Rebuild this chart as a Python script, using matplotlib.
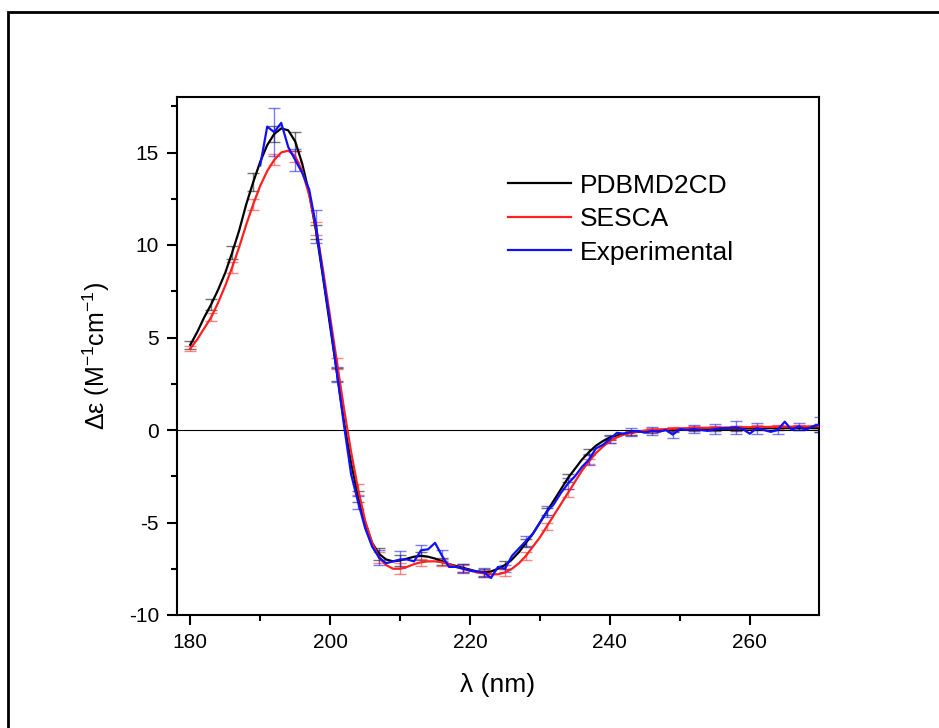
import matplotlib
matplotlib.use("Agg")
from matplotlib import pyplot as plt
from matplotlib.patches import Rectangle
from matplotlib.ticker import MultipleLocator

plt.rcParams['font.family'] = ['Liberation Sans', 'DejaVu Sans']
plt.rcParams['mathtext.fontset'] = 'custom'
plt.rcParams['mathtext.rm'] = 'Liberation Sans'
plt.rcParams['mathtext.it'] = 'Liberation Sans:italic'
plt.rcParams['axes.unicode_minus'] = False

# wavelength (nm)
wl = list(range(180, 271))
wl_exp = list(range(190, 271))

pdbmd2cd = [4.6, 5.3, 6.1, 6.8, 7.6, 8.5, 9.6, 10.8, 12.2, 13.4,
            14.5, 15.4, 16.0, 16.3, 16.2, 15.6, 14.4, 12.8, 10.7, 8.2,
            5.6, 3.0, 0.4, -1.8, -3.6, -5.0, -6.1, -6.7, -7.0, -7.1,
            -7.05, -6.95, -6.85, -6.8, -6.85, -6.95, -7.1, -7.25, -7.35, -7.45,
            -7.55, -7.65, -7.7, -7.65, -7.5, -7.3, -7.0, -6.6, -6.1, -5.6,
            -5.0, -4.4, -3.8, -3.2, -2.6, -2.1, -1.6, -1.2, -0.85, -0.6,
            -0.4, -0.3, -0.2, -0.15, -0.1, -0.08, -0.05, -0.03, 0.0, 0.0,
            0.02, 0.03, 0.04, 0.05, 0.05, 0.06, 0.07, 0.07, 0.08, 0.08,
            0.08, 0.09, 0.09, 0.1, 0.1, 0.1, 0.1, 0.1, 0.1, 0.1,
            0.1]

sesca = [4.4, 4.9, 5.5, 6.1, 6.9, 7.8, 8.8, 9.9, 11.1, 12.2,
         13.2, 14.0, 14.6, 15.0, 15.1, 14.8, 14.0, 12.7, 10.9, 8.6,
         6.1, 3.6, 1.1, -1.2, -3.2, -4.9, -6.1, -6.9, -7.3, -7.5,
         -7.5, -7.4, -7.25, -7.15, -7.1, -7.1, -7.15, -7.25, -7.4, -7.5,
         -7.6, -7.7, -7.75, -7.8, -7.8, -7.7, -7.5, -7.2, -6.8, -6.3,
         -5.8, -5.2, -4.6, -4.0, -3.4, -2.8, -2.2, -1.7, -1.25, -0.9,
         -0.6, -0.4, -0.25, -0.15, -0.08, -0.03, 0.0, 0.03, 0.05, 0.07,
         0.09, 0.1, 0.11, 0.12, 0.12, 0.13, 0.13, 0.14, 0.14, 0.15,
         0.15, 0.16, 0.16, 0.17, 0.17, 0.18, 0.18, 0.19, 0.19, 0.2,
         0.2]

experimental = [14.3, 16.4, 16.1, 16.6, 15.3, 14.6, 13.9, 13.0, 11.0, 8.3,
                5.8, 3.0, 0.2, -2.4, -3.9, -5.3, -6.3, -6.9, -7.2, -7.1,
                -7.0, -7.0, -7.1, -6.5, -6.45, -6.1, -6.8, -7.4, -7.4, -7.5,
                -7.6, -7.65, -7.7, -8.0, -7.4, -7.5, -6.8, -6.4, -6.0, -5.6,
                -5.0, -4.4, -4.0, -3.4, -2.9, -2.5, -2.0, -1.6, -1.0, -0.8,
                -0.5, -0.15, -0.2, -0.1, -0.05, -0.15, -0.05, -0.1, 0.0, -0.25,
                0.05, 0.0, 0.05, 0.0, -0.05, 0.05, 0.1, 0.1, 0.15, 0.05,
                -0.2, 0.1, 0.0, -0.1, 0.0, 0.45, 0.0, 0.2, 0.0, 0.2,
                0.3]

# error bars (every 3 nm)
err_wl = list(range(180, 271, 3))
pdbmd2cd_err = [0.2, 0.3, 0.35, 0.5, 0.45, 0.5, 0.4, 0.35, 0.3, 0.3,
                0.3, 0.2, 0.2, 0.2, 0.2, 0.2, 0.2, 0.2, 0.2, 0.15,
                0.15, 0.1, 0.1, 0.1, 0.1, 0.1, 0.15, 0.1, 0.1, 0.1,
                0.2]
sesca_err = [0.15, 0.2, 0.3, 0.3, 0.3, 0.3, 0.35, 0.3, 0.3, 0.3,
             0.3, 0.2, 0.2, 0.2, 0.2, 0.2, 0.2, 0.2, 0.2, 0.15,
             0.1, 0.1, 0.1, 0.1, 0.1, 0.1, 0.1, 0.1, 0.1, 0.1,
             0.1]
err_wl_exp = list(range(192, 271, 3))
experimental_err = [1.3, 0.6, 0.9, 0.4, 0.35, 0.4, 0.45, 0.3, 0.3, 0.25,
                    0.25, 0.2, 0.25, 0.3, 0.3, 0.3, 0.2, 0.2, 0.2, 0.2,
                    0.2, 0.25, 0.35, 0.3, 0.2, 0.2, 0.4]

fig = plt.figure(figsize=(9.39, 7.28), dpi=100)
# outer frame, cut by the right and bottom image edges
fig.add_artist(Rectangle((8 / 939, -0.1), 1.2, 1.1 - 12 / 728, fill=False,
                         lw=2, ec='black', transform=fig.transFigure, clip_on=False))
ax = fig.add_axes([177 / 939, 1 - 615 / 728, 642 / 939, 518 / 728])

ax.axhline(0, color='black', lw=0.8, zorder=1)

series = [
    (wl, pdbmd2cd, err_wl, pdbmd2cd_err, 'black', 'PDBMD2CD'),
    (wl, sesca, err_wl, sesca_err, '#ff2020', 'SESCA'),
    (wl_exp, experimental, err_wl_exp, experimental_err, '#1010ff', 'Experimental'),
]
for x, y, ex, ee, c, name in series:
    ey = [y[x.index(v)] for v in ex]
    ax.errorbar(ex, ey, yerr=ee, fmt='none', ecolor=c, alpha=0.55,
                elinewidth=1, capsize=4.5, capthick=1, zorder=2)
    ax.plot(x, y, color=c, lw=1.6, label=name, zorder=3)

ax.set_xlim(178.1, 269.9)
ax.set_ylim(-10, 18)
ax.xaxis.set_major_locator(MultipleLocator(20))
ax.xaxis.set_minor_locator(MultipleLocator(10))
ax.yaxis.set_major_locator(MultipleLocator(5))
ax.yaxis.set_minor_locator(MultipleLocator(2.5))
ax.tick_params(which='major', direction='out', length=7, width=1.5,
               labelsize=15, pad=6)
ax.tick_params(which='minor', direction='out', length=4, width=1.5)
for s in ax.spines.values():
    s.set_linewidth(1.5)

ax.set_xlabel('λ (nm)', fontsize=19, labelpad=15)
ax.set_ylabel('Δε (M$^{\\mathregular{-1}}$cm$^{\\mathregular{-1}}$)', fontsize=18, labelpad=12)

ax.legend(loc='upper left', bbox_to_anchor=(0.515, 0.852), frameon=False,
          fontsize=19, handlelength=2.4, handletextpad=0.35, labelspacing=0.36,
          borderpad=0, borderaxespad=0)

plt.savefig('out.png', dpi=100, facecolor='white')
